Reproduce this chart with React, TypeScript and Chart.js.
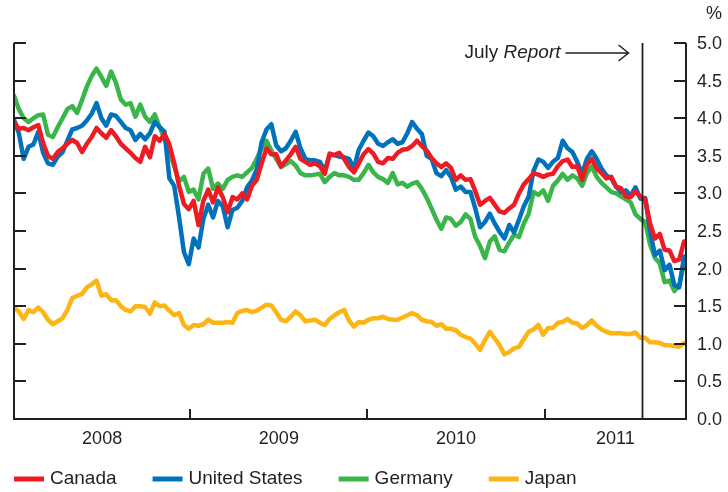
import React, { useEffect, useRef } from "react";
import { Chart, registerables } from "chart.js";

Chart.register(...registerables);

// ---- Data (yields, %) sampled every 10 days starting 2008-01-04 ----
const seriesNames = ["Canada", "United States", "Germany", "Japan"];
const seriesColors = ["#ED1C24", "#0072BC", "#39B54A", "#FDB515"];

const firstSampleDay = 3; // days since 2008-01-01
const sampleStepDays = 10;
const axisMinDay = 3;
const axisMaxDay = 1387;

const yearLabels = ["2008", "2009", "2010", "2011"];
const yearStartDays = [0, 366, 731, 1096];
const yTickValues = [0, 0.5, 1, 1.5, 2, 2.5, 3, 3.5, 4, 4.5, 5];
const julyReportDay = 1296; // 2011-07-20

const canada = [
  3.95, 3.86, 3.87, 3.84, 3.88, 3.91, 3.67, 3.5, 3.46, 3.55,
  3.6, 3.66, 3.71, 3.67, 3.55, 3.66, 3.75, 3.87, 3.8, 3.74,
  3.84, 3.76, 3.66, 3.6, 3.54, 3.47, 3.42, 3.62, 3.48, 3.76,
  3.7, 3.79, 3.65, 3.4, 3.1, 2.86, 2.79, 2.9, 2.58, 2.9,
  3.05, 2.88, 3.08, 2.95, 2.75, 2.95, 2.92, 3.0, 2.92, 3.1,
  3.18, 3.4, 3.6, 3.52, 3.52, 3.36, 3.44, 3.52, 3.62, 3.46,
  3.42, 3.38, 3.4, 3.36, 3.26, 3.53, 3.51, 3.54, 3.46, 3.35,
  3.28, 3.4, 3.52, 3.59, 3.53, 3.42, 3.4, 3.47, 3.46, 3.54,
  3.58, 3.59, 3.63, 3.7, 3.63, 3.57, 3.47, 3.4, 3.35, 3.4,
  3.34, 3.18, 3.24, 3.18, 3.19, 3.03, 2.85, 2.9, 2.94, 2.85,
  2.76, 2.74, 2.8, 2.85, 3.0, 3.12, 3.19, 3.27, 3.25, 3.22,
  3.25, 3.26, 3.36, 3.43, 3.45, 3.35, 3.36, 3.18, 3.38, 3.46,
  3.33, 3.27, 3.2, 3.22, 3.09, 3.07, 2.96, 2.95, 3.03, 2.96,
  2.92, 2.6, 2.4, 2.46, 2.25, 2.24, 2.1, 2.12, 2.36,
];

const unitedStates = [
  3.98, 3.8, 3.46, 3.62, 3.65, 3.82, 3.54, 3.4, 3.38, 3.49,
  3.55, 3.7, 3.85, 3.87, 3.9, 3.97, 4.06, 4.2, 4.0, 3.9,
  4.05, 4.03, 3.95, 3.87, 3.84, 3.71, 3.79, 3.72, 3.8, 3.95,
  3.88, 3.82, 3.2, 3.1, 2.68, 2.22, 2.06, 2.4, 2.28, 2.66,
  2.85, 2.68, 2.9, 2.83, 2.55, 2.78, 2.81, 2.9, 3.08, 3.17,
  3.32, 3.68, 3.85, 3.92, 3.64, 3.56, 3.6, 3.7, 3.82, 3.6,
  3.46, 3.44, 3.44, 3.42, 3.3, 3.51, 3.51, 3.49, 3.48, 3.46,
  3.33, 3.58, 3.7, 3.81, 3.76, 3.66, 3.63, 3.68, 3.72, 3.66,
  3.68, 3.8, 3.95, 3.86, 3.79, 3.5, 3.46, 3.27, 3.23, 3.31,
  3.22, 3.05, 3.09, 3.02, 3.02, 2.8, 2.55, 2.62, 2.73, 2.6,
  2.49, 2.4, 2.58, 2.48, 2.65, 2.83, 2.96, 3.3, 3.45, 3.42,
  3.34, 3.42, 3.47, 3.7, 3.6, 3.55, 3.42, 3.26, 3.46, 3.56,
  3.46, 3.33, 3.24, 3.2, 3.09, 3.02, 3.04, 2.97, 3.08, 2.93,
  2.94, 2.5, 2.18, 2.24, 1.98, 2.05, 1.78, 1.75, 2.16,
];

const germany = [
  4.3, 4.12, 4.0, 3.95, 4.0, 4.04, 4.05, 3.78, 3.75, 3.88,
  4.0, 4.12, 4.16, 4.07, 4.24, 4.42, 4.56, 4.66, 4.55, 4.43,
  4.62, 4.47, 4.25, 4.18, 4.2, 4.02, 4.18, 4.02, 3.95, 4.05,
  3.88, 3.72, 3.55, 3.36, 3.16, 3.22, 3.02, 3.05, 2.92, 3.26,
  3.33, 3.06, 3.13, 3.06, 3.18, 3.22, 3.24, 3.22, 3.28, 3.34,
  3.46, 3.6, 3.7, 3.57, 3.46, 3.35, 3.39, 3.43, 3.37, 3.27,
  3.24, 3.24, 3.25, 3.26, 3.15, 3.22, 3.27, 3.24, 3.24, 3.22,
  3.18, 3.18, 3.27, 3.38, 3.28, 3.22, 3.19, 3.14, 3.27, 3.12,
  3.14, 3.09, 3.13, 3.15, 3.06, 2.94, 2.8, 2.65, 2.53, 2.68,
  2.66, 2.57, 2.62, 2.72, 2.66, 2.42, 2.3, 2.14, 2.36, 2.43,
  2.25, 2.23, 2.35, 2.45, 2.42, 2.6, 2.73, 3.02, 2.98, 3.04,
  2.9, 3.1, 3.17, 3.26, 3.18, 3.24, 3.2, 3.1, 3.27, 3.36,
  3.22, 3.14, 3.08, 3.02, 3.0, 2.96, 2.92, 2.88, 2.72, 2.66,
  2.62, 2.32, 2.14, 2.07, 1.82, 1.84, 1.7, 1.78, 2.07,
];

const japan = [
  1.48, 1.43, 1.33, 1.45, 1.42, 1.48, 1.42, 1.32, 1.26, 1.3,
  1.34, 1.45, 1.61, 1.64, 1.66, 1.75, 1.79, 1.84, 1.64, 1.66,
  1.58, 1.58, 1.5, 1.45, 1.43, 1.5, 1.5, 1.49, 1.4, 1.55,
  1.5, 1.51, 1.44, 1.38, 1.41, 1.25, 1.2, 1.25, 1.24, 1.26,
  1.32, 1.28, 1.28, 1.28, 1.29, 1.28, 1.41, 1.44, 1.45, 1.42,
  1.44, 1.48, 1.52, 1.51, 1.42, 1.32, 1.3, 1.36, 1.43, 1.38,
  1.3, 1.31, 1.32, 1.28, 1.25, 1.33, 1.38, 1.42, 1.45, 1.31,
  1.23, 1.29, 1.28, 1.32, 1.34, 1.34, 1.36, 1.33, 1.32, 1.32,
  1.35, 1.38, 1.41, 1.38, 1.32, 1.3, 1.29, 1.24, 1.26, 1.2,
  1.2, 1.18, 1.12, 1.09, 1.07, 1.0, 0.92, 1.05, 1.16, 1.07,
  0.98, 0.86, 0.89, 0.94, 0.96, 1.06, 1.16, 1.19, 1.25, 1.12,
  1.21, 1.21, 1.28, 1.29, 1.33, 1.28, 1.27, 1.21, 1.25, 1.31,
  1.24, 1.19, 1.16, 1.14, 1.14, 1.14, 1.13, 1.13, 1.15, 1.08,
  1.08, 1.02, 1.02, 1.01, 0.98, 0.98, 0.97, 0.96, 1.01,
];

const seriesValues = [canada, unitedStates, germany, japan];

const INK = "#231F20";
const FONT = '"Liberation Sans", Arial, Helvetica, sans-serif';

const decorPlugin = {
  id: "decor",
  afterDatasetsDraw(chart: any) {
    const ctx: CanvasRenderingContext2D = chart.ctx;
    const { left, right, top, bottom } = chart.chartArea;
    const xs = chart.scales.x;
    const ys = chart.scales.y;
    ctx.save();
    ctx.strokeStyle = INK;
    ctx.fillStyle = INK;
    ctx.lineWidth = 2;
    ctx.lineCap = "butt";

    // axes frame (left, bottom, right)
    ctx.beginPath();
    ctx.moveTo(left, ys.getPixelForValue(5));
    ctx.lineTo(left, bottom);
    ctx.lineTo(right, bottom);
    ctx.lineTo(right, ys.getPixelForValue(5));
    ctx.stroke();

    // y ticks (inward) on both sides + right labels
    ctx.beginPath();
    yTickValues.forEach((v) => {
      const y = Math.round(ys.getPixelForValue(v));
      ctx.moveTo(left, y);
      ctx.lineTo(left + 12, y);
      ctx.moveTo(right, y);
      ctx.lineTo(right - 12, y);
    });
    ctx.stroke();

    ctx.font = `18px ${FONT}`;
    ctx.textAlign = "left";
    ctx.textBaseline = "middle";
    yTickValues.forEach((v) => {
      const y = ys.getPixelForValue(v);
      ctx.fillText(v.toFixed(1), right + 11, y + 1);
    });
    ctx.textAlign = "right";
    ctx.fillText("%", 722, 14);

    // year boundary ticks and labels
    ctx.beginPath();
    yearStartDays.forEach((d) => {
      if (d > axisMinDay && d < axisMaxDay) {
        const x = Math.round(xs.getPixelForValue(d));
        ctx.moveTo(x, bottom);
        ctx.lineTo(x, bottom - 10);
      }
    });
    ctx.stroke();
    ctx.textAlign = "center";
    yearLabels.forEach((lab, i) => {
      const s = Math.max(yearStartDays[i], axisMinDay);
      const e = Math.min(i + 1 < yearStartDays.length ? yearStartDays[i + 1] : axisMaxDay, axisMaxDay);
      const x = (xs.getPixelForValue(s) + xs.getPixelForValue(e)) / 2;
      ctx.fillText(lab, x, bottom + 20);
    });

    // July Report vertical line
    const jx = Math.round(xs.getPixelForValue(julyReportDay)) + 0.5;
    ctx.lineWidth = 1.8;
    ctx.beginPath();
    ctx.moveTo(jx, top);
    ctx.lineTo(jx, bottom);
    ctx.stroke();

    // arrow + annotation
    const ay = top + 10;
    const tipX = jx - 14;
    const startX = jx - 77;
    ctx.lineWidth = 1.5;
    ctx.beginPath();
    ctx.moveTo(startX, ay);
    ctx.lineTo(tipX, ay);
    ctx.moveTo(tipX - 10, ay - 8);
    ctx.lineTo(tipX, ay);
    ctx.lineTo(tipX - 10, ay + 8);
    ctx.stroke();

    ctx.textAlign = "left";
    ctx.font = `italic 19px ${FONT}`;
    const wRep = ctx.measureText("Report").width;
    ctx.font = `19px ${FONT}`;
    const wJuly = ctx.measureText("July ").width;
    const textEnd = startX - 5;
    const textStart = textEnd - wRep - wJuly;
    ctx.fillText("July ", textStart, ay);
    ctx.font = `italic 19px ${FONT}`;
    ctx.fillText("Report", textStart + wJuly, ay);

    // legend
    const ly = 479;
    let lx = left;
    ctx.font = `19px ${FONT}`;
    seriesNames.forEach((name, i) => {
      ctx.strokeStyle = seriesColors[i];
      ctx.lineWidth = 5;
      ctx.beginPath();
      ctx.moveTo(lx, ly);
      ctx.lineTo(lx + 30, ly);
      ctx.stroke();
      ctx.fillStyle = INK;
      ctx.fillText(name, lx + 36, ly);
      lx += 36 + ctx.measureText(name).width + 36;
    });

    ctx.restore();
  },
};

export default function App() {
  const canvasRef = useRef<HTMLCanvasElement | null>(null);

  useEffect(() => {
    const canvas = canvasRef.current;
    if (!canvas) return;
    const datasets = seriesNames.map((name, i) => ({
      label: name,
      data: seriesValues[i].map((v, k) => ({ x: firstSampleDay + k * sampleStepDays, y: v })),
      borderColor: seriesColors[i],
      backgroundColor: seriesColors[i],
      borderWidth: 4.5,
      pointRadius: 0,
      tension: 0,
      borderJoinStyle: "round" as const,
      borderCapStyle: "round" as const,
      fill: false,
    }));
    const chart = new Chart(canvas, {
      type: "line",
      data: { datasets },
      options: {
        animation: false,
        responsive: false,
        devicePixelRatio: 1,
        layout: { padding: { left: 14, right: 42, top: 43, bottom: 73 } },
        plugins: { legend: { display: false }, tooltip: { enabled: false } },
        scales: {
          x: { type: "linear", min: axisMinDay, max: axisMaxDay, display: false },
          y: { type: "linear", min: 0, max: 5, display: false },
        },
      },
      plugins: [decorPlugin],
    });
    return () => chart.destroy();
  }, []);

  return (
    <div style={{ position: "fixed", left: 0, top: 0, width: 728, height: 492, background: "#fff" }}>
      <canvas ref={canvasRef} width={728} height={492} />
    </div>
  );
}
